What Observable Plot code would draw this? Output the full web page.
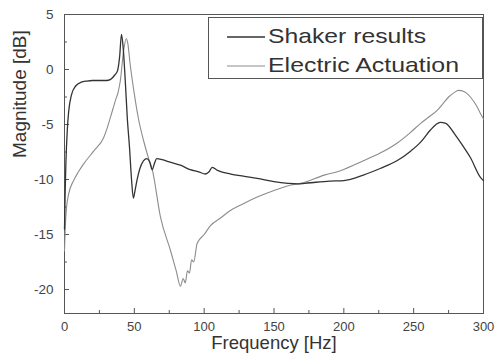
<!DOCTYPE html>
<html>
<head>
<meta charset="utf-8">
<script src="https://cdn.jsdelivr.net/npm/d3@7"></script>
<script src="https://cdn.jsdelivr.net/npm/@observablehq/plot@0.6"></script>
<style>
  html, body { margin: 0; padding: 0; background: #fff; }
  #wrap { position: relative; width: 496px; height: 356px; font-family: "Liberation Sans", Arial, sans-serif; }
  #legend { position: absolute; left: 208px; top: 17px; }
</style>
</head>
<body>
<div id="wrap"></div>
<script>
// ---- data ----
const seriesNames = ["Shaker results", "Electric Actuation"];

const shakerFreq = [0, 0.5, 1, 2, 3, 5, 8, 12, 16, 20, 25, 30, 33, 36, 38, 39.5, 40.8, 42, 43.5, 45, 46.5, 48, 49.3, 50.5, 52, 54, 56.5, 59, 61, 62.8, 64.5, 66, 70, 75, 83, 90, 96, 101, 103.5, 105.7, 110, 119, 128, 138, 150, 160, 166.5, 172, 180, 190, 200, 214, 226, 238, 248, 255, 262, 266, 269, 273, 279, 285, 290.6, 297.8, 300];
const shakerMag  = [-14.5, -11, -8.5, -5.5, -3.8, -2.3, -1.5, -1.15, -1.05, -1.0, -1.0, -1.0, -0.9, -0.5, -0.1, 1.2, 3.2, 2.0, -1.0, -4.5, -7.0, -10.0, -11.7, -11.0, -10.0, -9.0, -8.3, -8.1, -8.4, -9.1, -8.5, -8.1, -8.2, -8.4, -8.7, -9.1, -9.3, -9.5, -9.3, -8.9, -9.2, -9.5, -9.7, -9.9, -10.2, -10.35, -10.4, -10.35, -10.25, -10.15, -10.1, -9.6, -9.0, -8.3, -7.4, -6.6, -5.5, -5.0, -4.8, -4.9, -5.8, -6.9, -8.0, -9.8, -10.1];

const electricFreq = [0, 0.5, 1.5, 3, 6.5, 10, 13.6, 21, 28, 30.6, 33, 36.5, 38.5, 40, 42.3, 44.2, 45.3, 47, 49.6, 53, 56.7, 60, 63, 68.7, 76, 80, 83, 85, 86.5, 88, 89.5, 91, 92.5, 95, 100, 104.5, 111.7, 119, 128, 138, 150, 162, 169, 186, 197.6, 214, 226, 238, 247, 255, 261, 267, 271, 275, 279, 282, 286, 290.6, 295, 297.8, 300];
const electricMag  = [-16.5, -14.5, -12.5, -11.3, -10.1, -9.3, -8.6, -7.4, -6.2, -5.3, -4.3, -2.8, -2.0, -1.0, 1.7, 2.8, 2.4, 0.5, -1.9, -4.5, -6.5, -8.0, -9.2, -13.4, -16.5, -18.3, -19.7, -19.0, -19.4, -18.3, -18.5, -17.3, -17.5, -15.8, -15.0, -14.2, -13.5, -12.8, -12.2, -11.6, -11.0, -10.5, -10.35, -9.6, -9.2, -8.3, -7.6, -6.7, -5.8, -4.9, -4.3, -3.7, -3.1, -2.5, -2.1, -1.9, -2.0, -2.5, -3.3, -4.0, -4.5];

const xTickValues = [0, 50, 100, 150, 200, 250, 300];
const xMinorValues = [25, 75, 125, 175, 225, 275];
const yTickValues = [5, 0, -5, -10, -15, -20];
const yMinorValues = [2.5, -2.5, -7.5, -12.5, -17.5];
const xTitle = "Frequency [Hz]";
const yTitle = "Magnitude [dB]";

// ---- build tables ----
const shaker = shakerFreq.map((f, i) => ({f, m: shakerMag[i]}));
const electric = electricFreq.map((f, i) => ({f, m: electricMag[i]}));

const W = 496, H = 356, mL = 64, mR = 13, mT = 14, mB = 43;
const pw = W - mL - mR, ph = H - mT - mB;
const axisColor = "#555";
const darkColor = "#333";
const lightColor = "#8c8c8c";

const chart = Plot.plot({
  width: W, height: H,
  marginLeft: mL, marginRight: mR, marginTop: mT, marginBottom: mB,
  style: {fontFamily: "'Liberation Sans', Arial, sans-serif", color: "#333", background: "#fff"},
  x: {domain: [0, 300]},
  y: {domain: [-22.18, 5]},
  marks: [
    Plot.frame({stroke: axisColor, strokeWidth: 1}),
    Plot.axisX(xTickValues, {tickSize: 0, tickPadding: 8, fontSize: 13, label: null, tickFormat: d => String(d), fill: "#444"}),
    Plot.axisY(yTickValues, {tickSize: 0, tickPadding: 11, fontSize: 13.5, label: null, tickFormat: d => String(d), fill: "#444"}),
    Plot.tickX(xTickValues, {x: d => d, insetTop: ph - 5, stroke: axisColor}),
    Plot.tickX(xMinorValues, {x: d => d, insetTop: ph - 3, stroke: axisColor}),
    Plot.tickY(yTickValues, {y: d => d, insetRight: pw - 5, stroke: axisColor}),
    Plot.tickY(yMinorValues, {y: d => d, insetRight: pw - 3, stroke: axisColor}),
    Plot.line(electric, {x: "f", y: "m", stroke: lightColor, strokeWidth: 1.1, curve: "monotone-x"}),
    Plot.line(shaker, {x: "f", y: "m", stroke: darkColor, strokeWidth: 1.3, curve: "monotone-x"}),
    Plot.text([xTitle], {text: d => d, frameAnchor: "bottom", dy: 35, fontSize: 18.5, fill: "#333"}),
    Plot.text([yTitle], {text: d => d, frameAnchor: "left", rotate: -90, dx: -45, dy: -6, fontSize: 19, fill: "#333"})
  ]
});

const wrap = document.getElementById("wrap");
wrap.appendChild(chart);

// ---- legend (inside the plot area, top right) ----
const lg = d3.select(wrap).append("svg")
  .attr("id", "legend")
  .attr("width", 275).attr("height", 62)
  .style("font-family", "'Liberation Sans', Arial, sans-serif");
lg.append("rect").attr("x", 0.5).attr("y", 0.5).attr("width", 274).attr("height", 61)
  .attr("fill", "#fff").attr("stroke", axisColor);
const rows = [
  {name: seriesNames[0], color: darkColor, w: 1.3, y: 20, tl: 158},
  {name: seriesNames[1], color: lightColor, w: 1.1, y: 49, tl: 191}
];
rows.forEach(r => {
  lg.append("line").attr("x1", 19).attr("x2", 57).attr("y1", r.y).attr("y2", r.y)
    .attr("stroke", r.color).attr("stroke-width", r.w);
  lg.append("text").attr("x", 60).attr("y", r.y + 5.5)
    .attr("font-size", 21).attr("fill", "#333")
    .attr("textLength", r.tl).attr("lengthAdjust", "spacingAndGlyphs")
    .text(r.name);
});
</script>
</body>
</html>
